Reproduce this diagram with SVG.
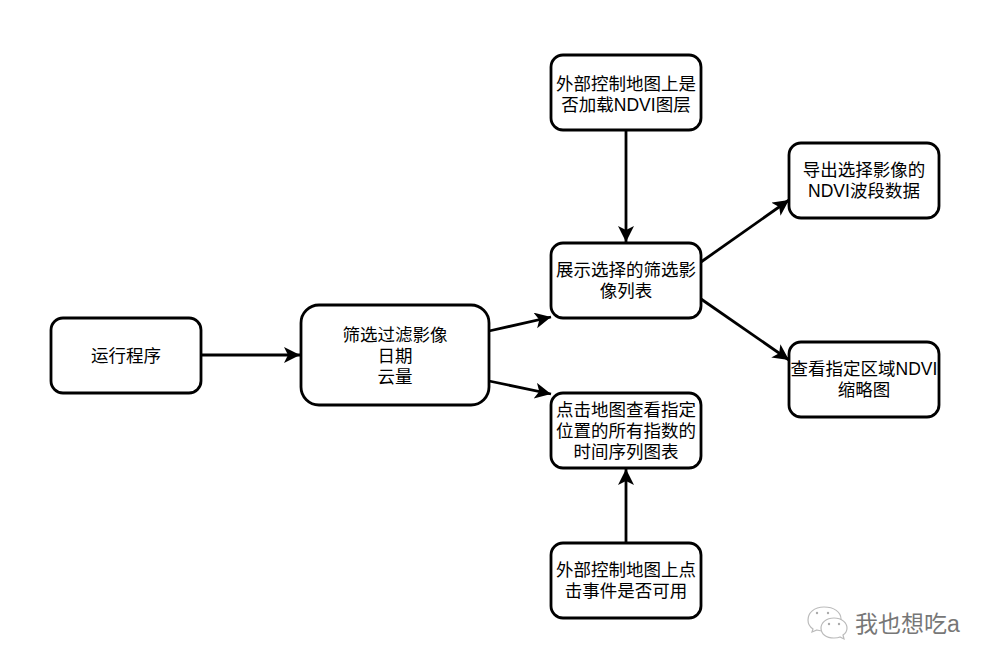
<svg xmlns="http://www.w3.org/2000/svg" width="996" height="667" viewBox="0 0 996 667">
<style>
.n{fill:#fff;stroke:#000;stroke-width:2.8}
.t{font-family:"Liberation Sans","Noto Sans CJK SC",sans-serif;font-size:17.5px;text-anchor:middle;fill:#000}
.c{fill:none;stroke:#000;stroke-width:2.8;marker-end:url(#a)}
.b{fill:#fff;stroke:#bbb;stroke-width:1.2}
.d{fill:#aaa}
</style>
<defs><marker id="a" markerUnits="userSpaceOnUse" markerWidth="18" markerHeight="18" refX="16" refY="8" orient="auto"><path d="M0 0L16 8L0 16L4 8Z" fill="#000"/></marker></defs>
<rect width="996" height="667" fill="#fff"/>
<g id="connectors">
<path class="c" d="M201 355H300"/>
<path class="c" d="M489 331L551 317"/>
<path class="c" d="M489 381L551 394"/>
<path class="c" d="M626 130V242"/>
<path class="c" d="M701 262L789 200"/>
<path class="c" d="M701 299L789 360"/>
<path class="c" d="M626 543V469"/>
</g>
<g id="n1"><rect class="n" x="51" y="318" width="150" height="75" rx="12"/><text class="t" x="126" y="362">运行程序</text></g>
<g id="n2"><rect class="n" x="301" y="305" width="188" height="100" rx="18"/><text class="t"><tspan x="395" y="341">筛选过滤影像</tspan><tspan x="395" y="362">日期</tspan><tspan x="395" y="383">云量</tspan></text></g>
<g id="n3"><rect class="n" x="551" y="55" width="150" height="75" rx="12"/><text class="t"><tspan x="626" y="90">外部控制地图上是</tspan><tspan x="626" y="111">否加载NDVI图层</tspan></text></g>
<g id="n4"><rect class="n" x="551" y="243" width="150" height="75" rx="12"/><text class="t"><tspan x="626" y="276">展示选择的筛选影</tspan><tspan x="626" y="297">像列表</tspan></text></g>
<g id="n5"><rect class="n" x="551" y="393" width="150" height="75" rx="12"/><text class="t"><tspan x="626" y="416">点击地图查看指定</tspan><tspan x="626" y="437">位置的所有指数的</tspan><tspan x="626" y="458">时间序列图表</tspan></text></g>
<g id="n6"><rect class="n" x="551" y="543" width="150" height="75" rx="12"/><text class="t"><tspan x="626" y="576">外部控制地图上点</tspan><tspan x="626" y="597">击事件是否可用</tspan></text></g>
<g id="n7"><rect class="n" x="789" y="143" width="150" height="75" rx="12"/><text class="t"><tspan x="864" y="176">导出选择影像的</tspan><tspan x="864" y="197">NDVI波段数据</tspan></text></g>
<g id="n8"><rect class="n" x="789" y="342" width="150" height="75" rx="12"/><text class="t"><tspan x="864" y="375">查看指定区域NDVI</tspan><tspan x="864" y="396">缩略图</tspan></text></g>
<g id="watermark">
<path class="b" d="M824 607C814 607 808 613 808 620C808 624 810 627 813 629L812 632L817 630C820 631 822 631 824 631C834 631 841 626 841 619C841 612 834 607 824 607Z"/>
<path class="b" d="M834 618C826 618 821 623 821 628C821 634 826 638 834 638C836 638 838 638 840 637L844 639L843 635C846 633 847 631 847 628C847 623 842 618 834 618Z"/>
<circle class="d" cx="817" cy="613" r="1.2"/><circle class="d" cx="828" cy="613" r="1.2"/><circle class="d" cx="829" cy="624" r="1.2"/><circle class="d" cx="839" cy="624" r="1.2"/>
<text x="855" y="632" font-family="Liberation Sans,Noto Sans CJK SC,sans-serif" font-size="23" fill="#777">我也想吃a</text>
</g>
</svg>
